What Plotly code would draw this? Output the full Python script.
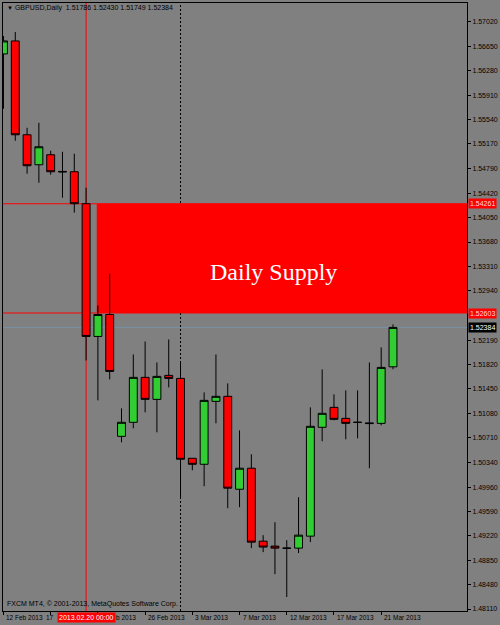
import plotly.graph_objects as go

# ---------------- data ----------------
dates = ["2013-02-12", "2013-02-13", "2013-02-14", "2013-02-15", "2013-02-17",
         "2013-02-18", "2013-02-19", "2013-02-20", "2013-02-21", "2013-02-22",
         "2013-02-24", "2013-02-25", "2013-02-26", "2013-02-27", "2013-02-28",
         "2013-03-01", "2013-03-03", "2013-03-04", "2013-03-05", "2013-03-06",
         "2013-03-07", "2013-03-08", "2013-03-10", "2013-03-11", "2013-03-12",
         "2013-03-13", "2013-03-14", "2013-03-15", "2013-03-17", "2013-03-18",
         "2013-03-19", "2013-03-20", "2013-03-21", "2013-03-22"]
opens = [1.56535, 1.56732, 1.55308, 1.54853, 1.55005, 1.54752, 1.54747, 1.54262, 1.52247, 1.52580,
         1.50731, 1.50944, 1.51626, 1.51292, 1.51656, 1.51610, 1.50398, 1.50307, 1.51262, 1.51338,
         1.49928, 1.50247, 1.49140, 1.49065, 1.49036, 1.49034, 1.49216, 1.50868, 1.51171, 1.51004,
         1.50946, 1.50935, 1.50928, 1.51786]
highs = [1.56808, 1.56868, 1.55414, 1.55490, 1.55065, 1.55050, 1.55020, 1.54505, 1.52717, 1.53201,
         1.51156, 1.51974, 1.52171, 1.51853, 1.52201, 1.51853, 1.50398, 1.51398, 1.51974, 1.51535,
         1.50822, 1.50459, 1.49231, 1.49428, 1.49156, 1.49807, 1.51171, 1.51747, 1.51368, 1.51429,
         1.51429, 1.51853, 1.52080, 1.52430]
lows = [1.55702, 1.55217, 1.54717, 1.54580, 1.54702, 1.54353, 1.54126, 1.51883, 1.51277, 1.51595,
        1.50641, 1.50853, 1.51095, 1.50792, 1.51474, 1.49792, 1.50216, 1.49974, 1.50929, 1.49640,
        1.49656, 1.49034, 1.48974, 1.48640, 1.48292, 1.48959, 1.49125, 1.50656, 1.50974, 1.50686,
        1.50701, 1.50247, 1.50898, 1.51749]
closes = [1.56732, 1.55308, 1.54838, 1.55126, 1.54747, 1.54745, 1.54262, 1.52247, 1.52580, 1.51716,
          1.50944, 1.51626, 1.51292, 1.51641, 1.51610, 1.50383, 1.50307, 1.51277, 1.51338, 1.49944,
          1.50247, 1.49125, 1.49050, 1.49034, 1.49032, 1.49231, 1.50883, 1.51080, 1.50989, 1.50928,
          1.50942, 1.50925, 1.51777, 1.52384]

ytick_vals = [1.57020, 1.56650, 1.56280, 1.55910, 1.55540, 1.55170, 1.54790, 1.54420,
              1.54050, 1.53680, 1.53310, 1.52940, 1.52190, 1.51820, 1.51450, 1.51080,
              1.50710, 1.50340, 1.49960, 1.49590, 1.49220, 1.48850, 1.48480, 1.48110]
ytick_text = ["%.5f" % v for v in ytick_vals]

xlabel_dates = ["2013-02-12", "2013-02-17", "2013-02-21", "2013-02-26", "2013-03-03",
                "2013-03-07", "2013-03-12", "2013-03-17", "2013-03-21"]
# labels as visible in the picture (17 Feb / 21 Feb are partly hidden by the crosshair date box)
xlabel_text = ["12 Feb 2013", "17", "b 2013", "26 Feb 2013", "3 Mar 2013",
               "7 Mar 2013", "12 Mar 2013", "17 Mar 2013", "21 Mar 2013"]

zone_top = 1.54261
zone_bottom = 1.52603
zone_start = "2013-02-21"
zone_label = "Daily Supply"
bid_price = 1.52384
cross_date = "2013-02-20"
cross_label = "2013.02.20 00:00"
separator_date = "2013-03-01"
symbol_title = "GBPUSD,Daily"
copyright_text = "FXCM MT4, © 2001-2013, MetaQuotes Software Corp."

# ---------------- figure ----------------
FONT = "Liberation Sans, Arial, sans-serif"
BG = "#808080"

fig = go.Figure()
fig.add_trace(go.Candlestick(
    x=dates, open=opens, high=highs, low=lows, close=closes,
    increasing=dict(fillcolor="#32CD32", line=dict(color="black", width=1)),
    decreasing=dict(fillcolor="#FF0000", line=dict(color="black", width=1)),
    whiskerwidth=0, showlegend=False, hoverinfo="skip"))

zone_x0 = dates.index(zone_start) - 0.1
shapes = [
    dict(type="rect", xref="x", yref="y", x0=zone_x0, x1=len(dates) + 20,
         y0=zone_bottom, y1=zone_top, fillcolor="#FF0000", line=dict(width=0), layer="below"),
    dict(type="line", xref="paper", yref="y", x0=0, x1=1, y0=zone_top, y1=zone_top,
         line=dict(color="#FF0000", width=1), layer="below"),
    dict(type="line", xref="paper", yref="y", x0=0, x1=1, y0=zone_bottom, y1=zone_bottom,
         line=dict(color="#FF0000", width=1), layer="below"),
    dict(type="line", xref="paper", yref="y", x0=0, x1=1, y0=bid_price, y1=bid_price,
         line=dict(color="#7890A4", width=1), layer="below"),
    dict(type="line", xref="x", yref="paper", x0=cross_date, x1=cross_date, y0=0, y1=1,
         line=dict(color="#FF0000", width=1), layer="below"),
    dict(type="line", xref="x", yref="paper", x0=separator_date, x1=separator_date, y0=0, y1=1,
         line=dict(color="black", width=1, dash="2px,2px"), layer="below"),
]

annotations = []
# date labels, left aligned at ticks (the partly hidden ones placed around the crosshair box)
for d, t in zip(xlabel_dates, xlabel_text):
    if t == "17":
        pos = dict(x=cross_date, xanchor="right", xshift=-30)
    elif t == "b 2013":
        pos = dict(x=cross_date, xanchor="left", xshift=28)
    else:
        pos = dict(x=d, xanchor="left", xshift=1)
    annotations.append(dict(xref="x", y=-0.0115, yref="paper", text=t, showarrow=False,
                            yanchor="middle", font=dict(family=FONT, size=6.5, color="black"),
                            **pos))
# crosshair date label
annotations.append(dict(x=cross_date, xref="x", y=-0.0115, yref="paper", text=cross_label,
                        showarrow=False, xanchor="center", yanchor="middle", bgcolor="#FF0000",
                        borderpad=1, font=dict(family=FONT, size=7, color="white")))
# price labels on right axis
for val, bg, fc in [(zone_top, "#FF0000", "#FFD8D8"), (zone_bottom, "#FF0000", "#FFD8D8"),
                    (bid_price, "black", "white")]:
    annotations.append(dict(x=1, xref="paper", y=val, yref="y", text="%.5f" % val,
                            showarrow=False, xanchor="left", yanchor="middle", xshift=1,
                            bgcolor=bg, borderpad=1,
                            font=dict(family=FONT, size=7, color=fc)))
# title
annotations.append(dict(x=0, xref="paper", y=0.991, yref="paper",
                        text="<span style='font-size:6px'>▼</span> %s  %.5f %.5f %.5f %.5f" % (
                            symbol_title, opens[-1], highs[-1], lows[-1], closes[-1]),
                        showarrow=False, xanchor="left", yanchor="middle", xshift=2,
                        font=dict(family=FONT, size=7, color="black")))
# copyright
annotations.append(dict(x=0, xref="paper", y=0.0107, yref="paper", text=copyright_text,
                        showarrow=False, xanchor="left", yanchor="middle", xshift=2,
                        font=dict(family=FONT, size=7, color="black")))
# zone label
annotations.append(dict(x=22.9, xref="x", y=1.5322, yref="y", text=zone_label,
                        showarrow=False, xanchor="center", yanchor="middle",
                        font=dict(family="Liberation Serif, Times New Roman, serif", size=24,
                                  color="white")))

fig.update_layout(
    width=500, height=625,
    margin=dict(l=2, r=31, t=2, b=14),
    paper_bgcolor=BG, plot_bgcolor=BG,
    boxgap=0.33, boxgroupgap=0,
    shapes=shapes, annotations=annotations,
    showlegend=False,
    xaxis=dict(type="category", categoryorder="array", categoryarray=dates,
               range=[-0.04, 39.27], rangeslider=dict(visible=False),
               showgrid=False, zeroline=False, showline=True, linecolor="black",
               linewidth=1, mirror=True, ticks="outside", ticklen=3, tickcolor="black",
               tickvals=xlabel_dates, showticklabels=False, fixedrange=True),
    yaxis=dict(range=[1.48080, 1.57308], side="right", showgrid=False, zeroline=False,
               showline=True, linecolor="black", linewidth=1, mirror=True,
               ticks="outside", ticklen=3, tickcolor="black",
               tickvals=ytick_vals, ticktext=ytick_text,
               tickfont=dict(family=FONT, size=7, color="black"), fixedrange=True),
)

fig.write_html("out.html", config={"displayModeBar": False})
